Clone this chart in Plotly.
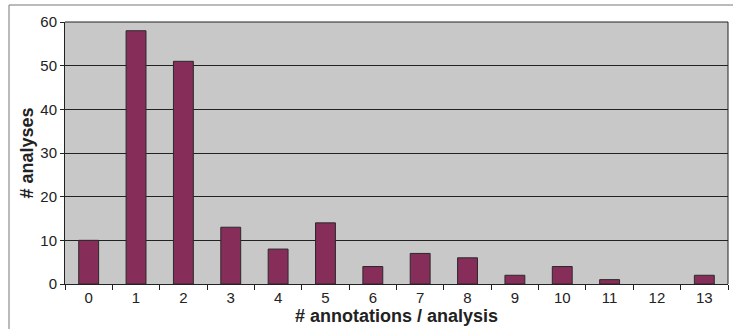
import plotly.graph_objects as go

categories = [str(i) for i in range(14)]
analyses = [10, 58, 51, 13, 8, 14, 4, 7, 6, 2, 4, 1, 0, 2]
y_ticks = [0, 10, 20, 30, 40, 50, 60]

W, H = 733, 329
L, R, T, B = 65, 5, 22, 45
pw = W - L - R
ph = H - T - B

def px2paper_x(px):
    return (px - L) / pw

def px2paper_y(py):
    return (H - B - py) / ph

fig = go.Figure(go.Bar(
    x=categories, y=analyses,
    marker=dict(color="#862D59",
                line=dict(color="#2a2a2a", width=[1 if v > 0 else 0 for v in analyses])),
    width=0.42,
    hoverinfo="skip",
))

fig.update_layout(
    width=W, height=H,
    margin=dict(l=L, r=R, t=T, b=B, autoexpand=False),
    paper_bgcolor="white",
    plot_bgcolor="#C8C8C8",
    font=dict(family="Liberation Sans, Arial, sans-serif", size=15, color="#222"),
    showlegend=False,
    xaxis=dict(
        type="category", tickson="boundaries", ticks="outside", ticklen=5,
        tickcolor="#222", showline=True, linecolor="#222", linewidth=1,
        showgrid=False, mirror=False, automargin=False,
        title=dict(text="<b># annotations / analysis</b>", font=dict(size=18), standoff=2),
        range=[-0.5, 13.5],
    ),
    yaxis=dict(
        range=[0, 60], tickvals=y_ticks, ticks="outside", ticklen=4,
        tickcolor="#222", showline=True, linecolor="#222", linewidth=1,
        showgrid=True, gridcolor="#222", gridwidth=1, zeroline=False,
        automargin=False,
        title=dict(text="<b># analyses</b>", font=dict(size=18), standoff=2),
    ),
    shapes=[
        dict(type="line", xref="paper", yref="paper", x0=1, x1=1, y0=0, y1=1,
             line=dict(color="#222", width=1)),
        dict(type="line", xref="paper", yref="paper", x0=0, x1=1, y0=1, y1=1,
             line=dict(color="#222", width=1)),
        dict(type="line", xref="paper", yref="paper",
             x0=px2paper_x(9), x1=px2paper_x(740), y0=px2paper_y(5), y1=px2paper_y(5),
             line=dict(color="#777", width=1)),
        dict(type="line", xref="paper", yref="paper",
             x0=px2paper_x(9), x1=px2paper_x(9), y0=px2paper_y(5), y1=px2paper_y(335),
             line=dict(color="#777", width=1)),
    ],
)

fig.write_html(
    "out.html",
    config={"displayModeBar": False},
    post_script="document.body.style.margin='0';document.body.style.overflow='hidden';",
)
